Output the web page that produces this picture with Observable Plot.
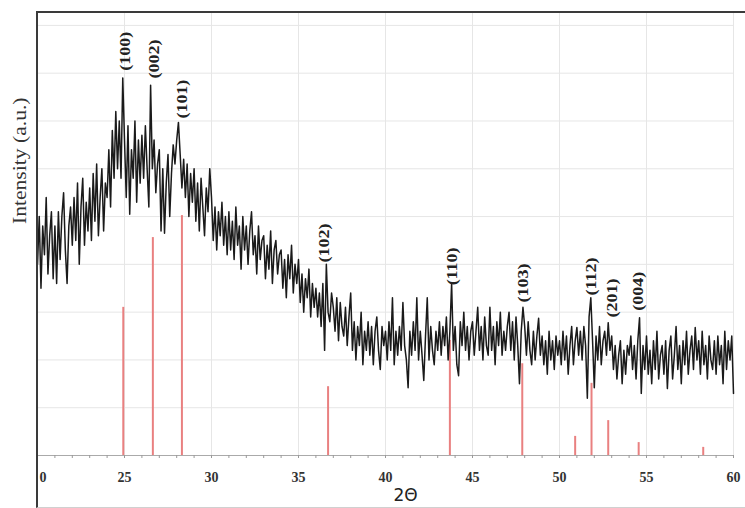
<!DOCTYPE html>
<html><head><meta charset="utf-8">
<script src="https://cdn.jsdelivr.net/npm/d3@7"></script>
<script src="https://cdn.jsdelivr.net/npm/@observablehq/plot@0.6"></script>
<style>
body{margin:0;background:#fff;}
#wrap{position:relative;width:745px;height:508px;overflow:hidden;}
#frame{position:absolute;left:36px;top:11px;width:720px;height:494px;border-top:2px solid #3a3a3a;border-left:2px solid #3a3a3a;border-bottom:1px solid #d0d0d0;pointer-events:none;}
</style></head><body><div id="wrap"><div id="frame"></div></div>
<script>
// 2θ grid of the measured pattern
const angleStart = 20, angleStep = 0.1;
// measured intensity (a.u.), one value per 0.1° from 20° to 60°
const intensity = [
 400,500,350,480,420,540,380,460,510,370,
 480,360,510,410,500,550,430,360,480,520,
 440,540,450,570,400,520,580,440,530,470,
 560,450,590,490,610,460,540,600,470,570,
 540,640,520,680,580,720,600,700,580,790,
 660,540,690,505,640,580,700,530,660,570,
 670,580,690,600,520,775,600,660,550,610,
 640,470,600,465,570,630,500,590,650,610,
 660,697,630,560,620,540,610,500,590,530,
 600,490,570,470,580,520,460,560,510,600,
 540,450,520,430,510,460,530,440,500,420,
 510,430,490,410,520,440,480,390,500,430,
 480,400,470,510,420,460,380,480,410,450,
 460,370,440,390,470,360,430,450,380,420,
 430,350,410,330,420,370,440,340,400,360,
 410,320,380,300,370,330,390,290,360,310,
 350,290,340,270,360,220,400,300,280,340,
 310,260,330,240,320,270,250,310,230,290,
 340,220,280,200,270,230,300,190,260,220,
 280,210,270,190,260,290,220,180,270,230,
 260,200,280,220,330,190,260,210,270,220,
 320,230,200,142,260,210,280,220,330,200,
 260,210,157,250,330,200,270,220,190,260,
 220,280,210,270,230,290,200,260,360,220,
 270,190,167,280,230,300,220,270,200,260,
 280,210,260,310,220,270,200,290,230,210,
 310,220,270,190,280,230,300,210,260,220,
 270,300,220,280,200,290,230,150,260,310,
 270,210,280,220,190,260,200,250,287,210,
 250,190,240,170,260,200,240,180,250,210,
 240,190,260,200,250,170,230,270,190,240,
 268,210,260,200,270,230,120,290,330,240,
 142,250,200,270,190,240,260,210,278,220,
 250,180,230,160,210,240,150,220,170,230,
 210,250,180,230,160,240,288,130,230,180,
 250,170,220,150,240,180,260,160,210,230,
 170,240,140,220,250,160,210,270,180,230,
 150,240,190,260,170,220,250,180,268,200,
 240,170,260,190,230,160,250,200,180,240,
 170,250,190,230,150,260,180,240,200,250,
 130
];
// reference (standard) pattern sticks
const refPos = [24.93, 26.63, 28.3, 36.7, 43.7, 47.86, 50.9, 51.84, 52.8, 54.55, 58.26];
const refInt = [310, 456, 502, 144, 241, 192, 40, 151, 73, 27, 17];
// peak indices
const peakLabels = ["(100)", "(002)", "(101)", "(102)", "(110)", "(103)", "(112)", "(201)", "(004)"];
const peakX = [25.05, 26.7, 28.3, 36.45, 43.85, 47.93, 51.84, 53.05, 54.5];
const peakY = [805, 789, 705, 404, 356, 320, 335, 289, 303];
// axis ticks
const xMajor = [25, 30, 35, 40, 45, 50, 55, 60];
const xMinor = d3.range(20, 61, 1);
const yGrid = [0, 100, 200, 300, 400, 500, 600, 700, 800, 900];

const serif = "'Liberation Serif', 'Times New Roman', serif";
const chart = Plot.plot({
  width: 745, height: 508,
  marginLeft: 37, marginRight: 12, marginTop: 12, marginBottom: 53,
  x: {domain: [20, 60], axis: null, label: null},
  y: {domain: [0, 927], axis: null, label: null},
  style: {fontFamily: serif, background: "transparent", overflow: "visible"},
  marks: [
    Plot.gridY(yGrid, {stroke: "#e6e6e6", strokeOpacity: 1}),
    Plot.gridX(xMajor, {stroke: "#e6e6e6", strokeOpacity: 1}),
    Plot.ruleY([0], {stroke: "#aaa"}),
    Plot.axisX(xMinor, {tickSize: 3, tickFormat: () => "", stroke: "#999", label: null}),
    Plot.axisX(xMajor, {tickSize: 0, tickPadding: 17, fontSize: 14, fontWeight: "bold", fill: "#333", label: null}),
    Plot.axisX([20], {tickSize: 0, tickPadding: 17, tickFormat: () => "0", textAnchor: "start", dx: 2, fontSize: 14, fontWeight: "bold", fill: "#333", label: null}),
    Plot.ruleX(refPos, {y1: 0, y2: refInt, stroke: "#e98080", strokeWidth: 2}),
    Plot.line(intensity, {x: (d, i) => angleStart + i * angleStep, y: d => d, stroke: "#1a1a1a", strokeWidth: 1.5}),
    Plot.text(peakLabels, {x: peakX, y: peakY, text: d => d, rotate: -90, textAnchor: "start", fontWeight: "bold", fontSize: 15, fill: "#222"}),
    Plot.text(["Intensity (a.u.)"], {frameAnchor: "left", rotate: -90, dx: -17, dy: -10, fontSize: 18, fill: "#333"}),
    Plot.text(["2Θ"], {frameAnchor: "bottom", dx: 20, dy: 45, fontFamily: "'DejaVu Sans', sans-serif", fontSize: 17, fill: "#222"})
  ]
});
// stretch rotated labels along their baseline (the source image is vertically stretched)
d3.select(chart).selectAll("text").each(function() {
  const t = this.getAttribute("transform");
  if (t && t.includes("rotate")) this.setAttribute("transform", t + " scale(1.2,1)");
});
chart.style.position = "absolute";
chart.style.left = "0px";
chart.style.top = "0px";
document.getElementById("wrap").prepend(chart);
</script>
</body></html>
